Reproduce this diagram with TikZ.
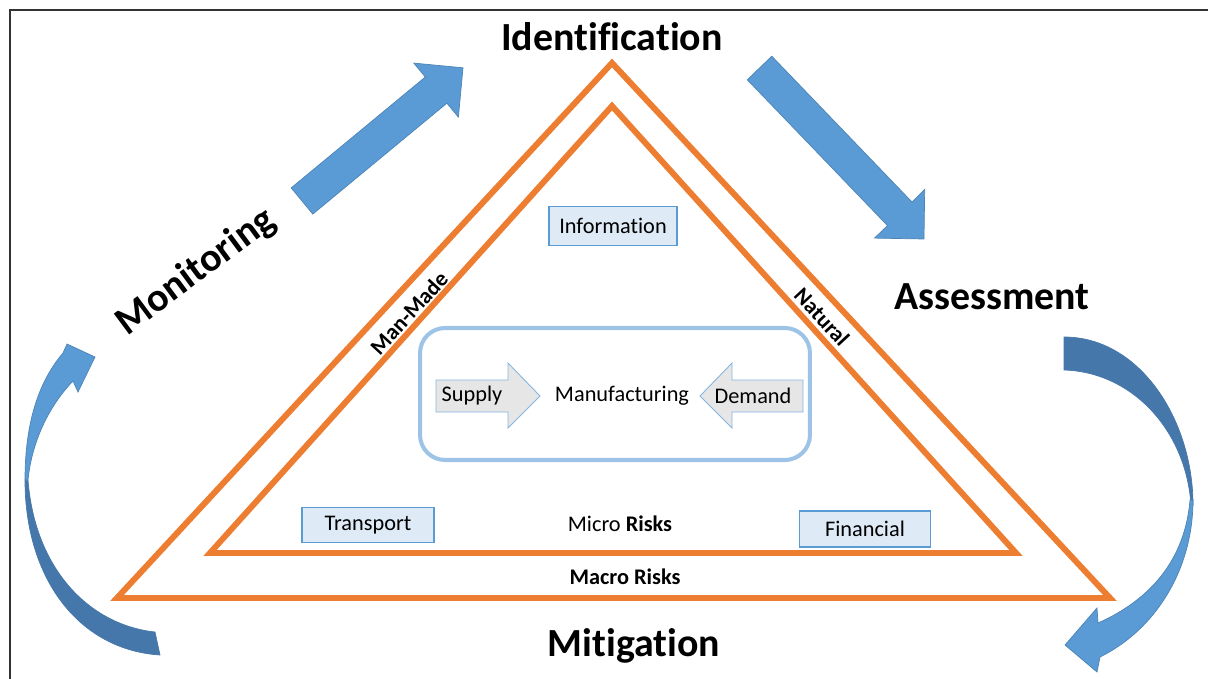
\documentclass[tikz,border=0pt]{standalone}
\usepackage{fontspec}
\setmainfont{Carlito}[Ligatures=NoCommon]
\definecolor{riskorange}{HTML}{ED7D31}
\definecolor{arrowblue}{HTML}{5B9BD5}
\definecolor{arrowdark}{HTML}{4677AB}
\definecolor{boxfill}{HTML}{DEEBF7}
\definecolor{coreline}{HTML}{9DC3E6}
\definecolor{flowfill}{HTML}{E7E6E6}

\begin{document}
\begin{tikzpicture}[x=0.02cm,y=-0.02cm,
    risk/.style={draw=riskorange,line width=3.4pt,line join=miter},
    bigarrow/.style={fill=arrowblue,draw=arrowblue!85!black,line width=0.4pt},
    backarrow/.style={fill=arrowdark,draw=arrowdark,line width=0.4pt},
    phase/.style={font=\fontsize{22.7}{27}\selectfont\bfseries,inner sep=0pt},
    small/.style={font=\fontsize{12.7}{15}\selectfont,inner sep=0pt},
    riskbox/.style={draw=arrowblue,fill=boxfill,line width=1.1pt,inner sep=0pt,font=\fontsize{12.7}{15}\selectfont},
    flow/.style={fill=flowfill,draw=arrowblue!75,line width=0.5pt}]
    \useasboundingbox (0,0) rectangle (1208,679);
    \draw [line width=1.1pt,black!80] (10,679) -- (10,10) -- (1208,10);
    \draw [risk] (612,63) -- (1110,598) -- (117,598) -- cycle;
    \draw [risk] (612,106) -- (1016,553) -- (210,553) -- cycle;
    \fill [bigarrow] (291.2,187.9) -- (425.3,77.0) -- (413.8,63.1) -- (463.0,67.8) -- (458.4,117.1) -- (446.9,103.2) -- (312.8,214.1) -- cycle;
    \fill [bigarrow] (747.3,79.8) -- (887.5,225.6) -- (874.5,238.1) -- (924,239) -- (924.7,189.5) -- (912.0,202.0) -- (771.8,56.2) -- cycle;
    \fill [backarrow] (1064,337) .. controls (1140,337) and (1193,420) .. (1193,505) -- (1191,505) .. controls (1186,430) and (1132,372) .. (1064,370) -- cycle;
    \fill [bigarrow] (1193,500) .. controls (1193,570) and (1155,630) .. (1100,657) -- (1097,672) -- (1065,645) -- (1097,608) -- (1098,623) .. controls (1150,600) and (1185,560) .. (1190,500) -- cycle;
    \fill [backarrow] (160,655) .. controls (80,650) and (25,580) .. (25,480) -- (28,480) .. controls (35,570) and (90,625) .. (155,632) -- cycle;
    \fill [bigarrow] (25,480) .. controls (25,420) and (40,380) .. (63,353) -- (67,344) -- (95,357) -- (78,392) -- (73,381) .. controls (50,405) and (32,440) .. (28,480) -- cycle;
    \node [phase] (identification) at (612,37) {Identification};
    \node [phase] (assessment) at (992,297) {Assessment};
    \node [phase] (mitigation) at (634,646) {Mitigation};
    \node [phase,rotate=36.5] (monitoring) at (196,272) {Monitoring};
    \node [small,font=\fontsize{12.7}{15}\selectfont\bfseries,rotate=47.5] (manmade) at (409,313) {Man-Made};
    \node [small,font=\fontsize{12.7}{15}\selectfont\bfseries,rotate=-47] (natural) at (822,317) {Natural};
    \node [riskbox,minimum width=2.56cm,minimum height=0.78cm] (information) at (613,226) {Information};
    \node [riskbox,minimum width=2.64cm,minimum height=0.70cm] (transport) at (368,525) {Transport};
    \node [riskbox,minimum width=2.62cm,minimum height=0.72cm] (financial) at (865,529) {Financial};
    \node [small] (micro) at (620,524) {Micro \textbf{Risks}};
    \node [small,font=\fontsize{12.7}{15}\selectfont\bfseries] (macro) at (625,577) {Macro Risks};
    \node [draw=coreline,line width=2.3pt,rounded corners=0.5cm,minimum width=7.8cm,minimum height=2.64cm] (core) at (615,394) {};
    \fill [flow] (436,380) -- (508,380) -- (508,363) -- (540,396) -- (508,428) -- (508,412) -- (436,412) -- cycle;
    \fill [flow] (803,380) -- (732,380) -- (732,363) -- (700,396) -- (732,428) -- (732,412) -- (803,412) -- cycle;
    \node [small] (supply) at (472,396) {Supply};
    \node [small] (manufacturing) at (622,396) {Manufacturing};
    \node [small] (demand) at (753,396) {Demand};
\end{tikzpicture}
\end{document}
